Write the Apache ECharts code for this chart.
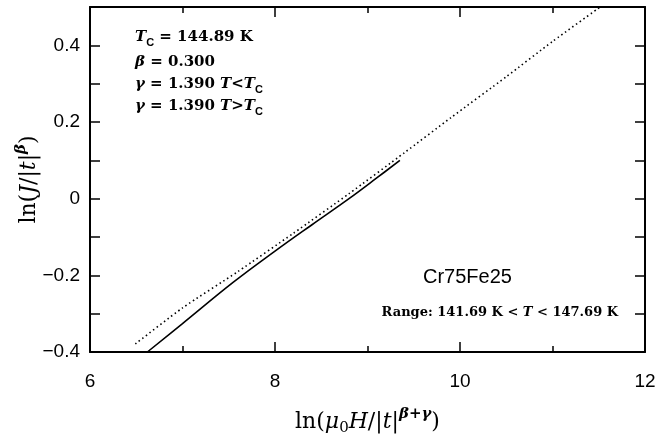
<!DOCTYPE html>
<html><head><meta charset="utf-8">
<script src="https://cdn.jsdelivr.net/npm/echarts@6/dist/echarts.min.js"></script>
<style>html,body{margin:0;padding:0;background:#fff}#c{width:672px;height:437px}</style>
</head><body><div id="c"></div>
<script>
// T > Tc branch (upper, dotted)
const upperX = [6.49, 7.0, 7.6, 8.2, 8.8, 9.4, 9.9, 10.5, 11.0, 11.51];
const upperY = [-0.379, -0.285, -0.19, -0.09, 0.013, 0.12, 0.211, 0.318, 0.41, 0.499];
// T < Tc branch (lower, solid)
const lowerX = [6.62, 7.0, 7.55, 8.0, 8.4, 8.8, 9.1, 9.35];
const lowerY = [-0.4, -0.326, -0.218, -0.137, -0.068, 0.0, 0.054, 0.1];
const xTicks = [6, 8, 10, 12];
const yTicks = [-0.4, -0.2, 0, 0.2, 0.4];

const serif = 'DejaVu Serif';
const sans = 'Liberation Sans';
const pairs = (xs, ys) => xs.map((x, i) => [x, ys[i]]);
const fmtY = v => {
  const r = Math.round(v * 10) / 10;
  if (!yTicks.some(t => Math.abs(t - r) < 1e-9)) return '';
  if (r === 0) return '0';
  return (r < 0 ? '\u2212' : '') + Math.abs(r).toFixed(1);
};
const fmtX = v => xTicks.indexOf(Math.round(v)) >= 0 ? String(Math.round(v)) : '';

const annRich = {
  i: {fontFamily: serif, fontStyle: 'italic', fontWeight: 'bold', fontSize: 15, color: '#000'},
  b: {fontFamily: serif, fontStyle: 'italic', fontWeight: 'bold', fontSize: 15, color: '#000'},
  sub: {fontFamily: sans, fontWeight: 'bold', fontSize: 11, color: '#000', padding: [10, 0, 0, 0]}
};
function ann(text, x, y) {
  return {type: 'text', left: x, top: y, style: {
    text: text, rich: annRich, fontFamily: serif, fontWeight: 'bold', fontSize: 15, fill: '#000',
    verticalAlign: 'middle'}};
}

const tl = {color: '#000', width: 1.5};
const axisLine = {show: true, onZero: false, lineStyle: {color: '#000', width: 2}};

const option = {
  animation: false,
  backgroundColor: '#fff',
  grid: {left: 90, right: 27, top: 7, bottom: 85, outerBoundsMode: 'none', containLabel: false},
  xAxis: [{
    type: 'value', min: 6, max: 12, interval: 2,
    axisLine: axisLine,
    axisTick: {show: true, inside: true, length: 10, lineStyle: tl},
    minorTick: {show: true, splitNumber: 2, length: 6, lineStyle: tl},
    splitLine: {show: false},
    axisLabel: {formatter: fmtX, fontFamily: sans, fontSize: 19, color: '#000', margin: 20},
    name: 'ln({i|μ}{sub|0}{i|H}/|{i|t}|{sup|β+γ})',
    nameLocation: 'middle', nameGap: 55, nameMoveOverlap: false,
    nameTextStyle: {fontFamily: serif, fontSize: 22, color: '#000', rich: {
      i: {fontFamily: serif, fontStyle: 'italic', fontSize: 22, color: '#000'},
      sub: {fontFamily: serif, fontSize: 15, color: '#000', padding: [13, 0, 0, 0]},
      sup: {fontFamily: serif, fontStyle: 'italic', fontWeight: 'bold', fontSize: 15, color: '#000', padding: [0, 0, 15, 0]}
    }}
  }, {
    type: 'value', position: 'top', min: 6, max: 12, interval: 2,
    axisLine: axisLine,
    axisTick: {show: true, inside: true, length: 10, lineStyle: tl},
    minorTick: {show: true, splitNumber: 2, length: 6, lineStyle: tl},
    splitLine: {show: false}, axisLabel: {show: false}
  }],
  yAxis: [{
    type: 'value', min: -0.4, max: 0.5, interval: 0.1,
    axisLine: axisLine,
    axisTick: {show: true, inside: true, length: 10, lineStyle: tl},
    splitLine: {show: false},
    axisLabel: {formatter: fmtY, fontFamily: sans, fontSize: 19, color: '#000', margin: 10},
    name: 'ln({i|J}/|{i|t}|{sup|β})',
    nameLocation: 'middle', nameGap: 46, nameRotate: 90, nameMoveOverlap: false,
    nameTextStyle: {fontFamily: serif, fontSize: 22, color: '#000', rich: {
      i: {fontFamily: serif, fontStyle: 'italic', fontSize: 22, color: '#000'},
      sup: {fontFamily: serif, fontStyle: 'italic', fontWeight: 'bold', fontSize: 15, color: '#000', padding: [0, 0, 15, 0]}
    }}
  }, {
    type: 'value', position: 'right', min: -0.4, max: 0.5, interval: 0.1,
    axisLine: axisLine,
    axisTick: {show: true, inside: true, length: 10, lineStyle: tl},
    splitLine: {show: false}, axisLabel: {show: false}
  }],
  graphic: [
    ann('{i|T}{sub|C} = 144.89 K', 135, 30),
    ann('{b|β} = 0.300', 135, 55),
    ann('{b|γ} = 1.390 {i|T}<{i|T}{sub|C}', 135, 77),
    ann('{b|γ} = 1.390 {i|T}>{i|T}{sub|C}', 135, 99),
    {type: 'text', left: 423, top: 267, style: {text: 'Cr75Fe25', fontFamily: sans, fontSize: 20, fill: '#000'}},
    {type: 'text', right: 54, top: 306, style: {
      text: 'Range: 141.69 K < {i|T} < 147.69 K', fontFamily: serif, fontWeight: 'bold', fontSize: 13, fill: '#000',
      rich: {i: {fontFamily: serif, fontStyle: 'italic', fontWeight: 'bold', fontSize: 13, color: '#000'}}}}
  ],
  series: [{
    type: 'line', data: pairs(upperX, upperY), symbol: 'none', smooth: 0.2,
    lineStyle: {color: '#000', width: 1.6, type: [1.5, 3]}
  }, {
    type: 'line', data: pairs(lowerX, lowerY), symbol: 'none', smooth: 0.4,
    lineStyle: {color: '#000', width: 1.6, type: 'solid'}
  }]
};
echarts.init(document.getElementById('c')).setOption(option);
</script></body></html>
